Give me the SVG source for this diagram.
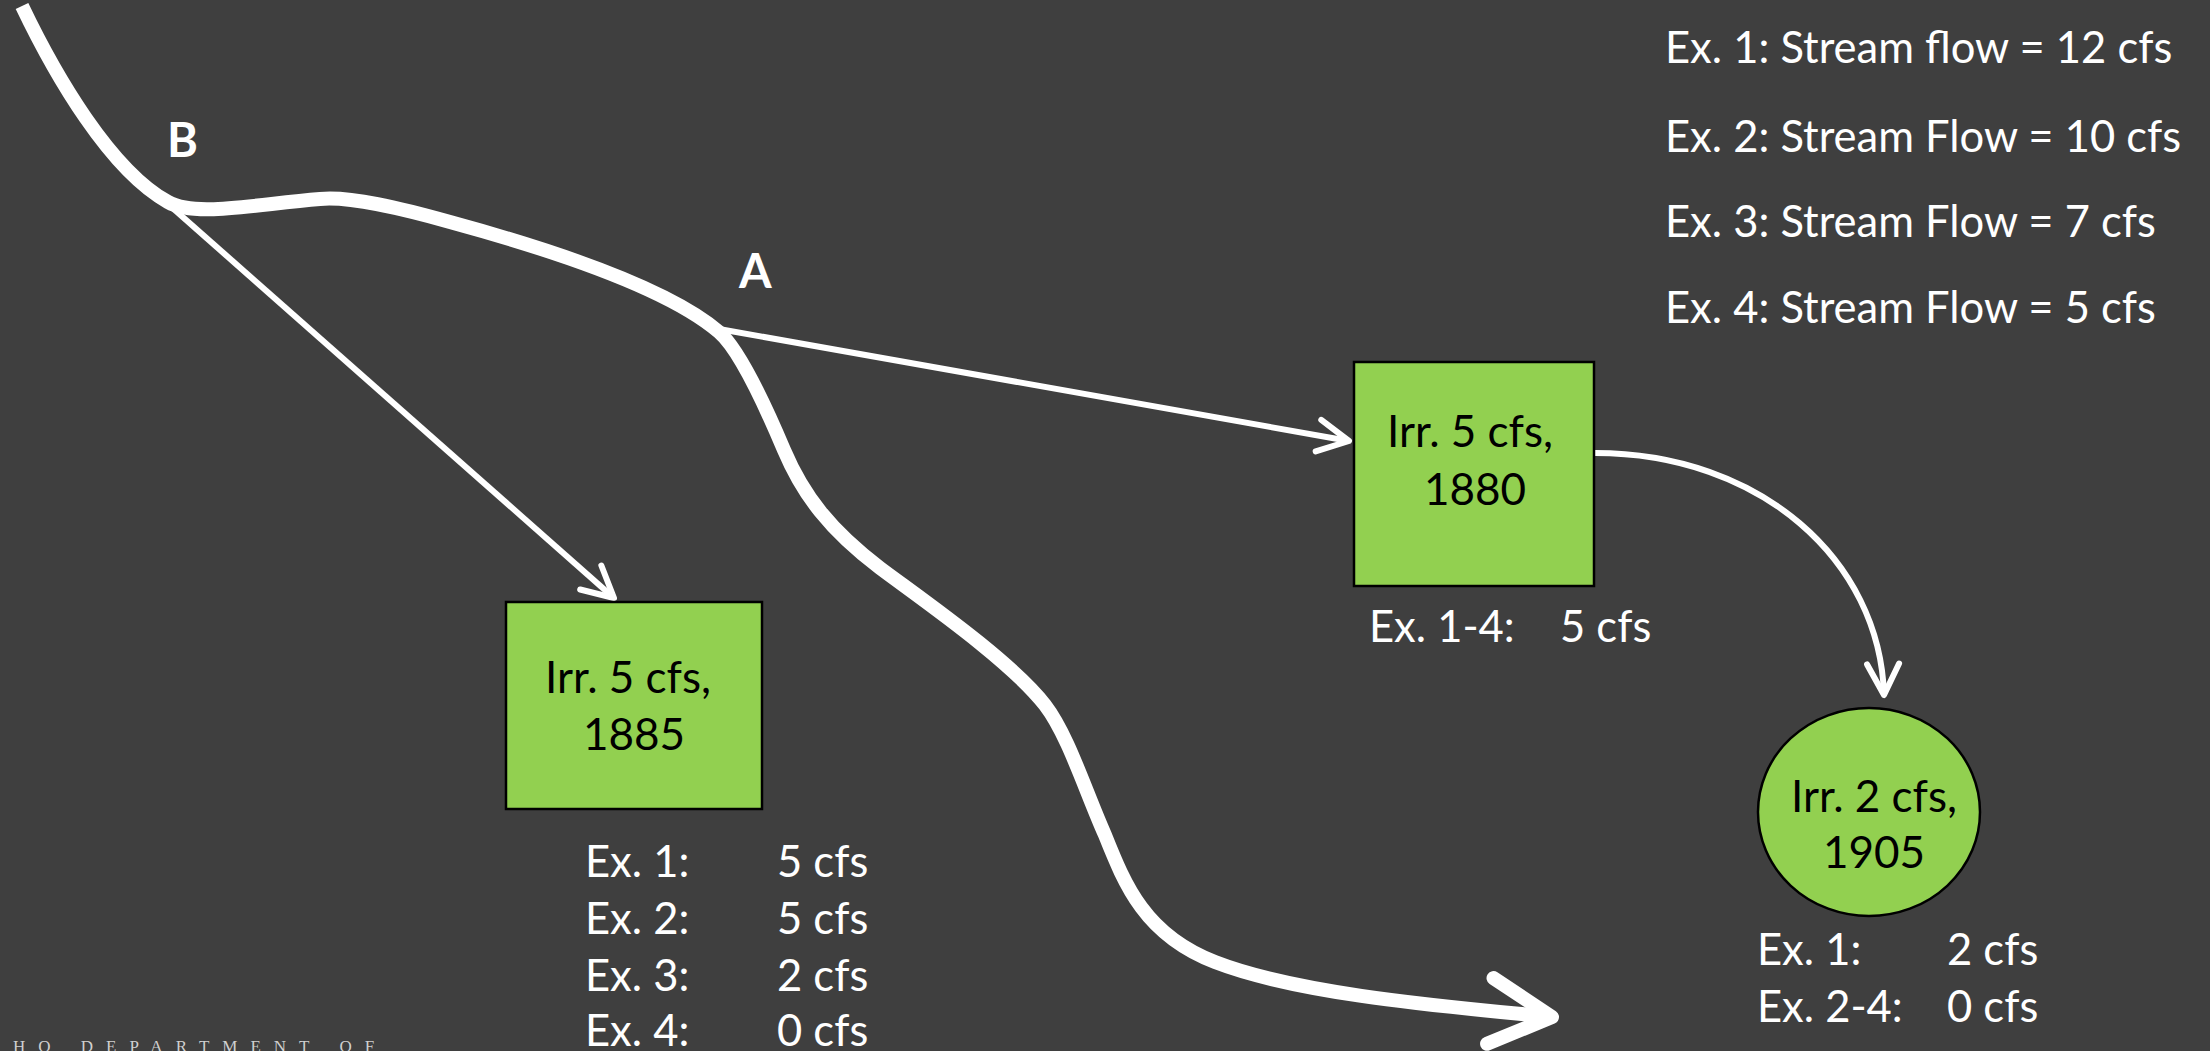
<svg xmlns="http://www.w3.org/2000/svg" width="2210" height="1051" viewBox="0 0 2210 1051">
<defs>
<style>
.bg{fill:#3f3f3f}
.t{font-family:Lato,"Liberation Sans",sans-serif;font-size:43.5px;fill:#fff}
.n{font-family:Lato,"Liberation Sans",sans-serif;font-size:44px;fill:#000;text-anchor:middle}
.lbl{font-family:Lato,"Liberation Sans",sans-serif;font-size:47px;font-weight:bold;fill:#fff}
.node{fill:#92d050;stroke:#000;stroke-width:2.5}
.thin{fill:none;stroke:#fff;stroke-width:6}
.stream{fill:none;stroke:#fff;stroke-width:14}
.foot{font-family:"Liberation Serif",serif;font-size:17px;letter-spacing:13px;fill:#d0d0d0}
</style>
<marker id="ah" markerUnits="userSpaceOnUse" viewBox="-40 -25 50 50" markerWidth="50" markerHeight="50" refX="0" refY="0" orient="auto" overflow="visible">
<path d="M-31,-16 L0,0 L-31,16" fill="none" stroke="#fff" stroke-width="6" stroke-linecap="round" stroke-linejoin="round"/>
</marker>
<marker id="ahBig" markerUnits="userSpaceOnUse" viewBox="-80 -45 95 90" markerWidth="95" markerHeight="90" refX="0" refY="0" orient="auto" overflow="visible">
<path d="M-62,-33 L0,0 L-62,33" fill="none" stroke="#fff" stroke-width="14" stroke-linecap="round" stroke-linejoin="round"/>
</marker>
</defs>
<rect class="bg" x="0" y="0" width="2210" height="1051"/>

<g id="connectors">
<path id="stream" class="stream" marker-end="url(#ahBig)" d="M22,6 C55,75 110,170 168,202 C195,217 250,205 320,199 C350,196 400,208 450,222 C560,252 670,290 719,332 C740,350 765,405 784,450 C803,495 830,530 880,568 C920,598 1010,660 1045,705 C1068,735 1085,790 1105,835 C1125,885 1145,935 1215,962 C1300,995 1450,1007 1552,1017"/>
<path id="edge-B" class="thin" marker-end="url(#ah)" d="M168,204 L614,598"/>
<path id="edge-A" class="thin" marker-end="url(#ah)" d="M719,329 L1349,441"/>
<path id="edge-1880-1905" class="thin" marker-end="url(#ah)" d="M1595,453 C1760,453 1880,560 1884,695"/>
</g>

<g id="label-B"><text class="lbl" x="167" y="157">B</text></g>
<g id="label-A"><text class="lbl" x="739" y="288">A</text></g>

<g id="node-1885">
<rect class="node" x="506" y="602" width="256" height="207"/>
<text class="n"><tspan x="628" y="693">Irr. 5 cfs,</tspan><tspan x="634" y="750">1885</tspan></text>
</g>

<g id="node-1880">
<rect class="node" x="1354" y="362" width="240" height="224"/>
<text class="n"><tspan x="1470" y="447">Irr. 5 cfs,</tspan><tspan x="1475" y="505">1880</tspan></text>
</g>

<g id="node-1905">
<ellipse class="node" cx="1869" cy="812" rx="111" ry="104"/>
<text class="n"><tspan x="1874" y="812">Irr. 2 cfs,</tspan><tspan x="1874" y="868">1905</tspan></text>
</g>

<g id="results-1885">
<text class="t" x="585" y="877">Ex. 1:</text><text class="t" x="777" y="877">5 cfs</text>
<text class="t" x="585" y="934">Ex. 2:</text><text class="t" x="777" y="934">5 cfs</text>
<text class="t" x="585" y="991">Ex. 3:</text><text class="t" x="777" y="991">2 cfs</text>
<text class="t" x="585" y="1046">Ex. 4:</text><text class="t" x="777" y="1046">0 cfs</text>
</g>

<g id="results-1880">
<text class="t" x="1369" y="642">Ex. 1-4:</text><text class="t" x="1560" y="642">5 cfs</text>
</g>

<g id="results-1905">
<text class="t" x="1757" y="965">Ex. 1:</text><text class="t" x="1947" y="965">2 cfs</text>
<text class="t" x="1757" y="1022">Ex. 2-4:</text><text class="t" x="1947" y="1022">0 cfs</text>
</g>

<g id="stream-flows">
<text class="t" x="1665" y="63">Ex. 1: Stream flow = 12 cfs</text>
<text class="t" x="1665" y="152">Ex. 2: Stream Flow = 10 cfs</text>
<text class="t" x="1665" y="237">Ex. 3: Stream Flow = 7 cfs</text>
<text class="t" x="1665" y="323">Ex. 4: Stream Flow = 5 cfs</text>
</g>

<g id="footer"><text class="foot" x="13" y="1052">HO DEPARTMENT OF</text></g>
</svg>
